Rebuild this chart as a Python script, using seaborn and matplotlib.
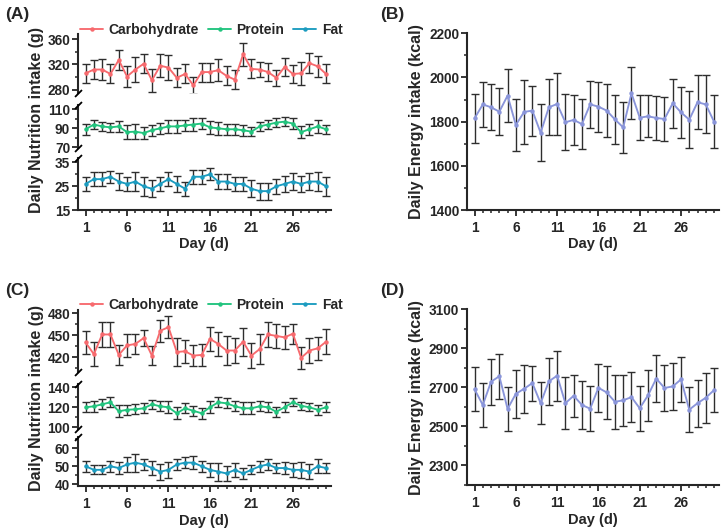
import numpy as np
import pandas as pd
import matplotlib
matplotlib.use('Agg')
import matplotlib.pyplot as plt
import seaborn as sns
from matplotlib.ticker import MultipleLocator, FixedLocator, NullLocator
from matplotlib.lines import Line2D

sns.set_theme(style='ticks')
plt.rcParams['font.family'] = ['Liberation Sans', 'DejaVu Sans']
plt.rcParams['font.weight'] = 'bold'
plt.rcParams['axes.labelweight'] = 'bold'

days = list(range(1, 31))
day_ticks = [1, 6, 11, 16, 21, 26]

# ---- Panel A (macronutrients, g) ----
carb_a = [306, 312, 312, 305, 327, 301, 312, 321, 295, 318, 315, 299, 305, 287, 308,
          308, 311, 302, 296, 336, 313, 312, 308, 299, 316, 305, 306, 322, 317, 305]
carb_a_err = [15, 15, 16, 15, 15, 16, 20, 15, 18, 18, 20, 15, 15, 14, 15,
              15, 17, 15, 15, 18, 15, 12, 14, 13, 14, 14, 18, 16, 16, 15]
prot_a = [89, 94, 92, 91, 92, 86, 86.5, 85, 88, 90, 92, 92, 93, 94, 95,
          91, 90, 89, 89, 88, 86.5, 92, 94, 96, 97, 95, 86, 89, 92, 89]
prot_a_err = [6, 5, 5, 5, 6, 7, 8, 6, 6, 6, 7, 7, 6, 7, 6,
              7, 7, 6, 6, 6, 5, 5, 5, 5, 5, 6, 6, 6, 7, 5]
fat_a = [26, 28, 28, 29, 27, 26, 27, 25, 24, 26, 28, 26, 24, 29, 29,
         30, 27, 27, 26, 26, 24, 23, 23, 25, 26, 27, 26, 27, 27, 25]
fat_a_err = [3, 3, 3, 2.5, 3.5, 3, 4, 4, 3.5, 3, 3, 3.5, 3, 3, 3,
             2.5, 3, 3, 3, 3, 3.5, 3.5, 3.5, 3, 3.5, 3.5, 3.5, 3.5, 4, 4]

# ---- Panel B (energy, kcal) ----
energy_b = [1815, 1878, 1865, 1845, 1918, 1785, 1844, 1850, 1750, 1865, 1880, 1797, 1808, 1789, 1878,
            1868, 1850, 1810, 1774, 1928, 1818, 1824, 1817, 1812, 1883, 1842, 1809, 1888, 1878, 1800]
energy_b_err = [110, 100, 104, 106, 119, 116, 145, 113, 130, 127, 140, 127, 113, 114, 106,
                113, 121, 109, 114, 118, 101, 95, 98, 100, 110, 116, 130, 122, 131, 121]

# ---- Panel C (macronutrients, g) ----
carb_c = [440, 424, 451, 451, 423, 436, 438, 446, 422, 456, 461, 427, 428, 422, 423,
          445, 438, 429, 429, 441, 422, 431, 451, 449, 447, 452, 419, 429, 432, 441]
carb_c_err = [15.5, 16.5, 17.5, 16.5, 14, 16, 14, 11, 13.5, 15, 15.5, 19, 16, 14, 15,
              16, 17, 20, 16.5, 19, 17.5, 20.5, 16.5, 16, 16, 14, 15, 17.5, 16, 17]
prot_c = [120, 121, 123, 125, 116, 117.5, 118, 119, 123, 121, 120, 114, 119, 116.5, 114,
          120, 125, 124, 121, 119, 119, 121, 120, 115.5, 120, 125, 121.5, 120, 117.5, 120]
prot_c_err = [5, 5.5, 5, 5, 6, 5, 5, 5, 4.5, 5, 6, 6, 5, 5, 5.5,
              6, 5, 5, 5, 6, 6, 5, 5, 5, 5, 4, 4, 4, 5, 5]
fat_c = [50, 48, 48, 50, 49, 51, 52, 51, 49, 47, 48, 51, 52, 52, 50,
         48, 47, 46, 48, 46, 48, 50, 51, 49, 49, 48, 48, 47, 50, 49]
fat_c_err = [3, 2.5, 2.5, 3, 3.5, 4, 5, 3, 4, 4.5, 4.5, 3, 3, 3.5, 3,
             4, 5, 4, 4, 3, 2.5, 3, 3, 3, 3.5, 4, 4.5, 4, 4, 3]

# ---- Panel D (energy, kcal) ----
energy_d = [2690, 2610, 2729, 2757, 2590, 2667, 2693, 2722, 2619, 2731, 2760, 2619, 2657, 2610, 2591,
            2698, 2674, 2626, 2634, 2650, 2593, 2659, 2745, 2697, 2705, 2741, 2586, 2619, 2647, 2686]
energy_d_err = [113, 112, 118, 115, 112, 123, 124, 90, 109, 119, 128, 134, 109, 121, 114,
                124, 138, 140, 132, 129, 116, 132, 119, 117, 121, 114, 117, 121, 127, 111]

series_names = ['Carbohydrate', 'Protein', 'Fat']
C_CARB, C_PROT, C_FAT, C_EN = '#F76A6E', '#22C47E', '#1C9CC0', '#8A95DA'
C_ERR = '#2e2e2e'

W, H = 727, 531
fig = plt.figure(figsize=(W / 100, H / 100), dpi=100)


def rect(x0, x1, ytop, ybot):
    return [x0 / W, 1 - ybot / H, (x1 - x0) / W, (ybot - ytop) / H]


TICK_FS = 9.8


def style_axis(ax, show_x):
    for s in ['top', 'right']:
        ax.spines[s].set_visible(False)
    ax.spines['left'].set_linewidth(1.5)
    ax.spines['bottom'].set_linewidth(1.5)
    ax.set_xlim(0.05, 30.6)
    ax.tick_params(axis='y', which='major', length=4, width=1.3, pad=1.5, labelsize=TICK_FS)
    ax.tick_params(axis='y', which='minor', length=2.5, width=1.1)
    if show_x:
        ax.xaxis.set_major_locator(FixedLocator(day_ticks))
        ax.xaxis.set_minor_locator(MultipleLocator(1))
        ax.tick_params(axis='x', which='major', length=4, width=1.3, pad=4, labelsize=TICK_FS)
        ax.tick_params(axis='x', which='minor', length=2.5, width=1.1)
    else:
        ax.spines['bottom'].set_visible(False)
        ax.xaxis.set_major_locator(NullLocator())
        ax.xaxis.set_minor_locator(NullLocator())
    for lab in ax.get_xticklabels() + ax.get_yticklabels():
        lab.set_fontweight('bold')
    ax.set_xlabel('')
    ax.set_ylabel('')
    ax.grid(False)
    ax.set_facecolor('none')


def draw_series(ax, vals, errs, color, lw=1.35, ms=3.2):
    ax.errorbar(days, vals, yerr=errs, fmt='none', ecolor=C_ERR, elinewidth=1.0,
                capsize=2.6, capthick=1.0, zorder=1)
    sns.lineplot(x=days, y=vals, ax=ax, color=color, linewidth=lw, marker='o',
                 markersize=ms, markeredgewidth=0, zorder=2)


def slash(ax, ypos):
    ax.plot([0], [ypos], transform=ax.transAxes, marker=[(-1, -1), (1, 1)],
            markersize=5, markeredgewidth=1.3, color='black', clip_on=False, zorder=5)


def macro_panel(x0, x1, segs, data, legend_y, label, label_xy, ylab_x, ylab_y, xlab_y):
    axes = []
    n = len(segs)
    for i, (ytop, ybot, ylim, majors, minor) in enumerate(segs):
        ax = fig.add_axes(rect(x0, x1, ytop, ybot))
        vals, errs, col = data[i]
        draw_series(ax, vals, errs, col)
        ax.set_ylim(*ylim)
        ax.yaxis.set_major_locator(FixedLocator(majors))
        ax.yaxis.set_minor_locator(MultipleLocator(minor))
        style_axis(ax, show_x=(i == n - 1))
        if i < n - 1:
            slash(ax, 0)
        if i > 0:
            slash(ax, 1)
        axes.append(ax)
    handles = [Line2D([], [], color=c, lw=1.35, marker='o', markersize=3.2, markeredgewidth=0)
               for c in [C_CARB, C_PROT, C_FAT]]
    axes[0].legend(handles, series_names, loc='center', bbox_to_anchor=(0.528, legend_y),
                   ncol=3, frameon=False, handlelength=1.65, handletextpad=0.4,
                   columnspacing=0.65, borderaxespad=0, borderpad=0,
                   prop={'weight': 'bold', 'size': 10})
    fig.text(label_xy[0] / W, 1 - label_xy[1] / H, label, fontsize=12.5, weight='bold',
             ha='left', va='center')
    fig.text(ylab_x / W, 1 - ylab_y / H, 'Daily Nutrition intake (g)', rotation=90,
             fontsize=11.5, weight='bold', ha='center', va='center')
    fig.text((x0 + x1) / 2 / W, 1 - xlab_y / H, 'Day (d)', fontsize=10.5, weight='bold',
             ha='center', va='center')
    return axes


def energy_panel(x0, x1, ytop, ybot, vals, errs, ylim, majors, label, label_xy,
                 ylab_x, xlab_y):
    ax = fig.add_axes(rect(x0, x1, ytop, ybot))
    draw_series(ax, vals, errs, C_EN)
    ax.set_ylim(*ylim)
    ax.yaxis.set_major_locator(FixedLocator(majors))
    ax.yaxis.set_minor_locator(MultipleLocator(100))
    style_axis(ax, show_x=True)
    fig.text(label_xy[0] / W, 1 - label_xy[1] / H, label, fontsize=12.5, weight='bold',
             ha='left', va='center')
    fig.text(ylab_x / W, 1 - (ytop + ybot) / 2 / H, 'Daily Energy intake (kcal)', rotation=90,
             fontsize=11.5, weight='bold', ha='center', va='center')
    fig.text((x0 + x1) / 2 / W, 1 - xlab_y / H, 'Day (d)', fontsize=10.5, weight='bold',
             ha='center', va='center')
    return ax


# Panel A
macro_panel(77.7, 331,
            [(34, 93, (275, 368), [280, 320, 360], 20),
             (105, 148.3, (69, 114.5), [70, 90, 110], 10),
             (158.3, 210.3, (15, 36.7), [15, 25, 35], 5)],
            [(carb_a, carb_a_err, C_CARB), (prot_a, prot_a_err, C_PROT), (fat_a, fat_a_err, C_FAT)],
            legend_y=1.075, label='(A)', label_xy=(5, 15), ylab_x=36.5, ylab_y=120, xlab_y=244)

# Panel C
macro_panel(77.7, 331,
            [(310, 371.7, (400, 484.5), [420, 450, 480], 15),
             (384.3, 429, (98.3, 143), [100, 120, 140], 10),
             (436.7, 485.7, (39.2, 66.4), [40, 50, 60], 5)],
            [(carb_c, carb_c_err, C_CARB), (prot_c, prot_c_err, C_PROT), (fat_c, fat_c_err, C_FAT)],
            legend_y=1.085, label='(C)', label_xy=(5, 290), ylab_x=36.5, ylab_y=398, xlab_y=521)

# Panel B
energy_panel(466.7, 719, 33.3, 210, energy_b, energy_b_err, (1400, 2200),
             [1400, 1600, 1800, 2000, 2200], '(B)', (380, 15), ylab_x=416, xlab_y=244)

# Panel D
energy_panel(466.7, 719, 309.3, 485, energy_d, energy_d_err, (2200, 3100),
             [2300, 2500, 2700, 2900, 3100], '(D)', (380, 291), ylab_x=416, xlab_y=520)

fig.savefig('out.png', dpi=100)
